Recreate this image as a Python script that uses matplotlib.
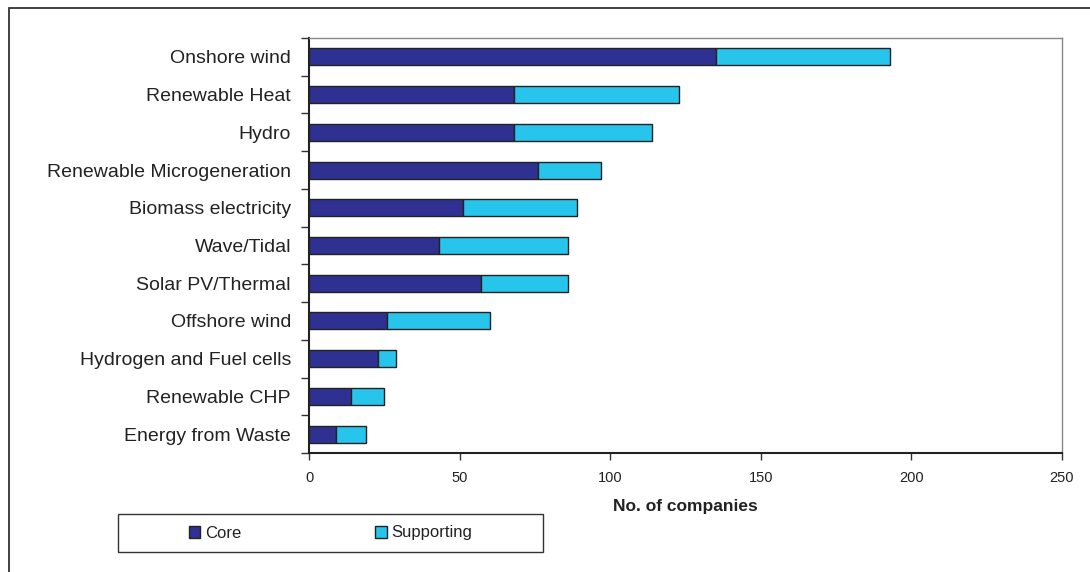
import matplotlib
matplotlib.use("Agg")
import matplotlib.pyplot as plt
from matplotlib.patches import Rectangle

categories = ["Onshore wind", "Renewable Heat", "Hydro", "Renewable Microgeneration",
              "Biomass electricity", "Wave/Tidal", "Solar PV/Thermal", "Offshore wind",
              "Hydrogen and Fuel cells", "Renewable CHP", "Energy from Waste"]
core = [135, 68, 68, 76, 51, 43, 57, 26, 23, 14, 9]
supporting = [58, 55, 46, 21, 38, 43, 29, 34, 6, 11, 10]
xticks = [0, 50, 100, 150, 200, 250]

plt.rcParams['font.family'] = ['Liberation Sans', 'DejaVu Sans']
text_color = '#222222'

fig = plt.figure(figsize=(10.9, 5.72), dpi=100)
W, H = 1090, 572

# outer frame
fig.patches.append(Rectangle((9 / W, -0.05), 1.2, (H - 8) / H + 0.05,
                             transform=fig.transFigure, fill=False,
                             edgecolor='#333333', linewidth=1.3))

ax = fig.add_axes([309 / W, (H - 453) / H, (1062 - 309) / W, (453 - 38) / H])

n = len(categories)
ypos = list(range(n))
ax.barh(ypos, core, height=0.45, color='#2E3192', edgecolor='#222222', linewidth=1.0,
        label='Core')
ax.barh(ypos, supporting, left=core, height=0.45, color='#27C4EC', edgecolor='#222222',
        linewidth=1.0, label='Supporting')

ax.set_ylim(n - 0.5, -0.5)
ax.set_xlim(0, 250)
ax.set_xticks(xticks)
ax.set_xticklabels([str(v) for v in xticks], fontsize=10.5, color=text_color)

# y ticks at category boundaries, labels at category centres
ax.set_yticks([i - 0.5 for i in range(n + 1)])
ax.set_yticklabels([])
ax.set_yticks(ypos, minor=True)
ax.set_yticklabels(categories, minor=True, fontsize=14, color=text_color)
ax.tick_params(axis='y', which='minor', length=0, pad=13)
ax.tick_params(axis='y', which='major', length=6, width=1, color='#333333', direction='out')
ax.tick_params(axis='x', length=5, width=1, color='#333333', direction='out', pad=8)

ax.set_xlabel('No. of companies', fontsize=12.5, fontweight='bold', color=text_color,
              labelpad=10)

for s in ['top', 'right']:
    ax.spines[s].set_color('#888888')
    ax.spines[s].set_linewidth(1.0)
for s in ['left', 'bottom']:
    ax.spines[s].set_color('#222222')
    ax.spines[s].set_linewidth(1.5)

# legend box
fig.patches.append(Rectangle((118 / W, (H - 552) / H), (543 - 118) / W, (552 - 514) / H,
                             transform=fig.transFigure, fill=False,
                             edgecolor='#333333', linewidth=1.0))
leg = fig.legend(loc='center', bbox_to_anchor=(330.5 / W, (H - 533) / H), ncol=2,
                 frameon=False, fontsize=12, handlelength=0.7, handleheight=0.7,
                 handletextpad=0.3, columnspacing=8.0, labelcolor=text_color)

fig.savefig('out.png', dpi=100)
